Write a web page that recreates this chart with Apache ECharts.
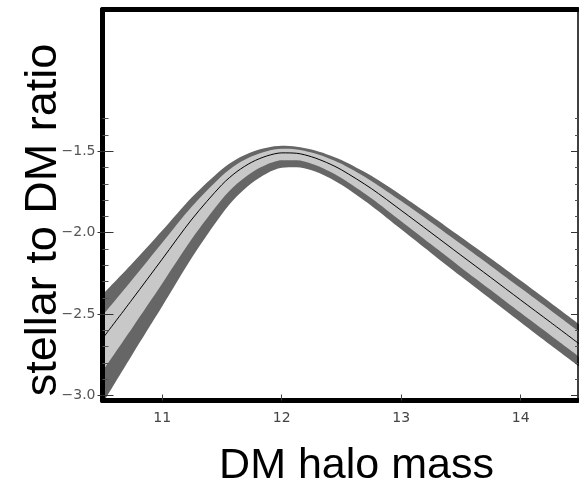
<!DOCTYPE html>
<html>
<head>
<meta charset="utf-8">
<script src="https://cdn.jsdelivr.net/npm/echarts@6/dist/echarts.min.js"></script>
<style>
html,body{margin:0;padding:0;background:#fff;}
#chart{width:579px;height:490px;}
</style>
</head>
<body>
<div id="chart"></div>
<script>
// halo mass grid
var haloMass = [10.5, 10.75, 11, 11.25, 11.5, 11.625, 11.75, 11.875, 12, 12.125, 12.25, 12.375, 12.5, 12.75, 13, 13.25, 13.5, 13.75, 14, 14.25, 14.5];
// central relation
var ratioMid = [-2.65, -2.408, -2.162, -1.916, -1.705, -1.625, -1.567, -1.529, -1.51, -1.5125, -1.534, -1.569, -1.614, -1.729, -1.863, -2.0, -2.138, -2.275, -2.413, -2.55, -2.688];
// inner (light) band edges
var lightHigh = [-2.51, -2.288, -2.062, -1.838, -1.65, -1.58, -1.531, -1.50, -1.485, -1.489, -1.508, -1.538, -1.577, -1.682, -1.806, -1.936, -2.07, -2.204, -2.34, -2.476, -2.613];
var lightLow = [-2.85, -2.583, -2.312, -2.036, -1.795, -1.70, -1.63, -1.582, -1.556, -1.556, -1.577, -1.615, -1.664, -1.788, -1.929, -2.071, -2.213, -2.352, -2.492, -2.63, -2.768];
// outer (dark) band edges
var darkHigh = [-2.38, -2.188, -1.987, -1.781, -1.61, -1.547, -1.504, -1.478, -1.467, -1.472, -1.49, -1.518, -1.554, -1.651, -1.77, -1.896, -2.027, -2.159, -2.294, -2.43, -2.568];
var darkLow = [-3.05, -2.748, -2.452, -2.151, -1.885, -1.777, -1.695, -1.636, -1.602, -1.598, -1.617, -1.655, -1.706, -1.834, -1.979, -2.124, -2.268, -2.409, -2.55, -2.69, -2.828];
// ticks
var xTicks = [11, 12, 13, 14];
var xTickLabels = ['11', '12', '13', '14'];
var yTicks = [-3.0, -2.5, -2.0, -1.5];
var yTickLabels = ['\u22123.0', '\u22122.5', '\u22122.0', '\u22121.5'];
var yMinorTicks = [-2.9, -2.8, -2.7, -2.6, -2.4, -2.3, -2.2, -2.1, -1.9, -1.8, -1.7, -1.6, -1.4, -1.3];
var xTitle = 'DM halo mass';
var yTitle = 'stellar to DM ratio';

var X_MIN = 10.5, X_MAX = 14.48, Y_MIN = -3.03, Y_MAX = -0.63;
var DARK = '#666666', LIGHT = '#c8c8c8';
var SMOOTH = 0.3;

function pairs(arr) { return haloMass.map(function (x, i) { return [x, arr[i]]; }); }

function yAx(extra) {
  var base = {
    type: 'value', min: Y_MIN, max: Y_MAX, position: 'left', z: 6,
    splitLine: { show: false },
    axisLine: { show: false },
    axisTick: { show: false },
    axisLabel: { show: false }
  };
  for (var k in extra) base[k] = extra[k];
  return base;
}

function band(name, arr, fill) {
  return {
    type: 'line', name: name, data: pairs(arr), symbol: 'none', smooth: SMOOTH, silent: true,
    xAxisIndex: 0, yAxisIndex: 0, z: 2,
    lineStyle: { width: 0, opacity: 0 },
    areaStyle: { color: fill, opacity: 1, origin: 'start' }
  };
}

var chart = echarts.init(document.getElementById('chart'), null, { renderer: 'canvas' });

chart.setOption({
  animation: false,
  backgroundColor: '#ffffff',
  grid: { left: 102.5, right: 1, top: 9.5, bottom: 89.5, containLabel: false },
  xAxis: [
    {
      type: 'value', min: X_MIN, max: X_MAX, position: 'bottom', z: 6,
      splitLine: { show: false },
      axisLine: { show: true, onZero: false, lineStyle: { color: '#000', width: 5 } },
      axisTick: { show: true, inside: true, length: 6, customValues: xTicks, lineStyle: { color: '#444', width: 1 } },
      axisLabel: {
        show: true, customValues: xTicks, margin: 11, fontSize: 14, color: '#444', fontFamily: 'DejaVu Sans',
        formatter: function (v) { var i = xTicks.indexOf(v); return i >= 0 ? xTickLabels[i] : ''; }
      }
    },
    {
      type: 'value', min: X_MIN, max: X_MAX, position: 'top', z: 6,
      splitLine: { show: false },
      axisLine: { show: true, onZero: false, lineStyle: { color: '#000', width: 5 } },
      axisTick: { show: false }, axisLabel: { show: false }
    }
  ],
  yAxis: [
    yAx({
      axisLine: { show: true, onZero: false, lineStyle: { color: '#000', width: 5 } },
      axisTick: { show: true, inside: false, length: 5, customValues: yTicks, lineStyle: { color: '#333', width: 1 } },
      axisLabel: {
        show: true, customValues: yTicks, margin: 7, fontSize: 14, color: '#555', fontFamily: 'DejaVu Sans',
        formatter: function (v) {
          for (var i = 0; i < yTicks.length; i++) if (Math.abs(yTicks[i] - v) < 1e-6) return yTickLabels[i];
          return '';
        }
      }
    }),
    yAx({ axisTick: { show: true, inside: true, length: 11, customValues: yTicks, lineStyle: { color: '#333', width: 1 } } }),
    yAx({ axisTick: { show: true, inside: true, length: 6, customValues: yMinorTicks, lineStyle: { color: '#555', width: 1 } } }),
    yAx({
      position: 'right',
      axisLine: { show: true, onZero: false, lineStyle: { color: '#000', width: 1.5 } },
      axisTick: { show: true, inside: true, length: 7, customValues: yTicks, lineStyle: { color: '#333', width: 1 } }
    }),
    yAx({ position: 'right', axisTick: { show: true, inside: true, length: 3, customValues: yMinorTicks, lineStyle: { color: '#555', width: 1 } } })
  ],
  series: [
    band('darkUpper', darkHigh, DARK),
    band('lightUpper', lightHigh, LIGHT),
    band('darkLower', lightLow, DARK),
    band('blank', darkLow, '#ffffff'),
    {
      type: 'line', name: 'mid', data: pairs(ratioMid), symbol: 'none', smooth: SMOOTH, silent: true,
      xAxisIndex: 0, yAxisIndex: 0, z: 3, lineStyle: { color: '#000', width: 1 }
    }
  ],
  graphic: [
    {
      type: 'text', x: 43.5, y: 220, rotation: Math.PI / 2,
      style: { text: yTitle, fontSize: 45, fontFamily: 'Liberation Sans', fill: '#000', align: 'center', verticalAlign: 'middle' }
    },
    {
      type: 'text', x: 356.5, y: 466.5,
      style: { text: xTitle, fontSize: 43, fontFamily: 'Liberation Sans', fill: '#000', align: 'center', verticalAlign: 'middle' }
    }
  ]
});
</script>
</body>
</html>
